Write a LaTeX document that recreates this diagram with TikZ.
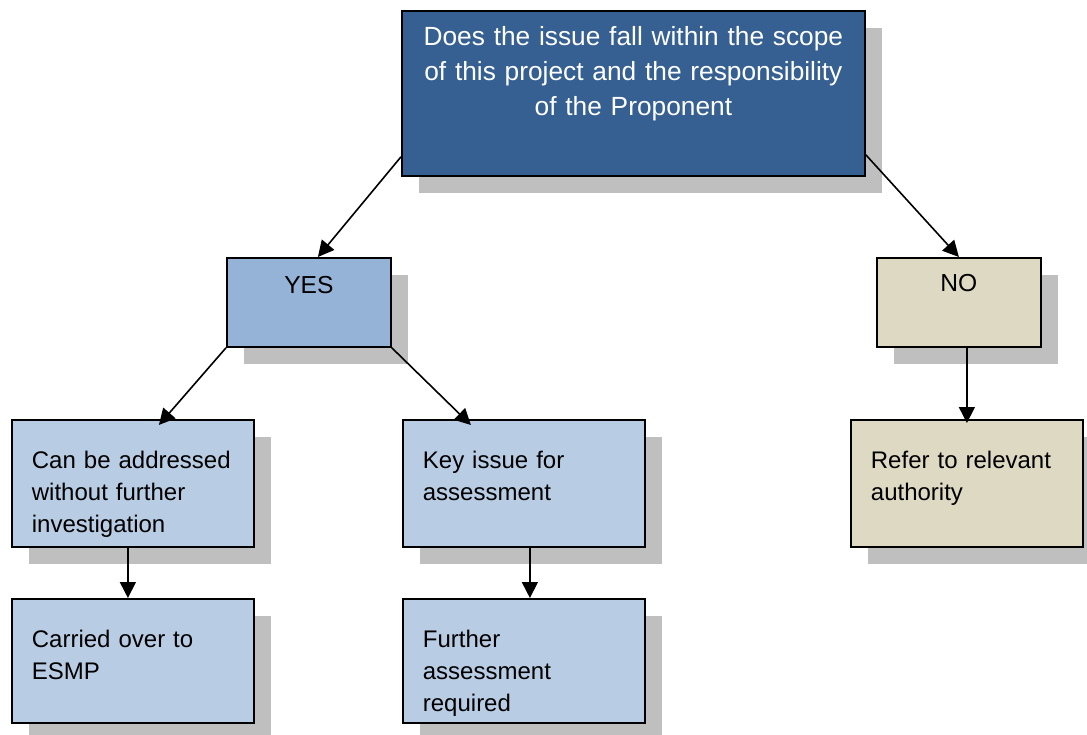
\documentclass[tikz,border=0pt]{standalone}
\usepackage{fontspec}
\setmainfont{Liberation Sans}
\usetikzlibrary{arrows.meta,shadows}
\definecolor{navy}{RGB}{54,96,146}
\definecolor{midblue}{RGB}{149,179,215}
\definecolor{paleblue}{RGB}{184,204,228}
\definecolor{sand}{RGB}{221,217,195}
\definecolor{shade}{RGB}{191,191,191}

\begin{document}
\begin{tikzpicture}[
    x=1pt,y=-1pt,
    box/.style={draw=black,line width=0.9pt,inner sep=0pt,anchor=north west,
      drop shadow={shadow xshift=8.3pt,shadow yshift=-8.3pt,fill=shade,opacity=1}},
    questionbox/.style={box,fill=navy,text=white,text width=231.5pt,align=center,
      text height=17.5pt,text depth=65pt,font=\fontsize{13.15}{17.5}\selectfont},
    answerbox/.style={box,text width=82pt,align=center,
      text height=17.5pt,text depth=27pt,font=\fontsize{12.3}{15}\selectfont},
    stepbox/.style={box,fill=paleblue,inner xsep=10pt,text width=101pt,align=left,
      text height=24.5pt,text depth=39pt,font=\fontsize{12}{15.9}\selectfont},
    arrow/.style={-{Triangle[length=8pt,width=8pt]},line width=0.8pt}
  ]
    \useasboundingbox (0,0) rectangle (543.5,367);
    \node[questionbox] (issue) at (200.5,5) {Does the issue fall within the scope\\of this project and the responsibility\\of the Proponent};
    \node[answerbox,fill=midblue,text height=18pt,text depth=26.5pt] (yes) at (113,128.5) {YES};
    \node[answerbox,fill=sand,text height=16.7pt,text depth=27.8pt] (no) at (438,128.5) {NO};
    \node[stepbox] (direct) at (5.5,209.5) {Can be addressed\\without further\\investigation};
    \node[stepbox] (key) at (201,209.5) {Key issue for\\assessment};
    \node[stepbox,fill=sand,text width=96pt] (refer) at (425,209.5) {Refer to relevant\\authority};
    \node[stepbox,text depth=37.5pt] (esmp) at (5.5,299) {Carried over to\\ESMP};
    \node[stepbox,text depth=37.5pt] (further) at (201,299) {Further\\assessment\\required};
    \draw[arrow] ([yshift=10pt]issue.south west) -- ([xshift=4.5pt]yes.north);
    \draw[arrow] ([yshift=11pt]issue.south east) -- (no.north);
    \draw[arrow] (yes.south west) -- ([xshift=13pt,yshift=-3pt]direct.north);
    \draw[arrow] (yes.south east) -- ([xshift=-26.5pt,yshift=-3pt]key.north);
    \draw[arrow] (refer.north |- no.south) -- ([yshift=-2pt]refer.north);
    \draw[arrow] ([xshift=-2.5pt]direct.south) -- ([xshift=-2.5pt]esmp.north);
    \draw[arrow] ([xshift=3pt]key.south) -- ([xshift=3pt]further.north);
  \end{tikzpicture}
\end{document}
